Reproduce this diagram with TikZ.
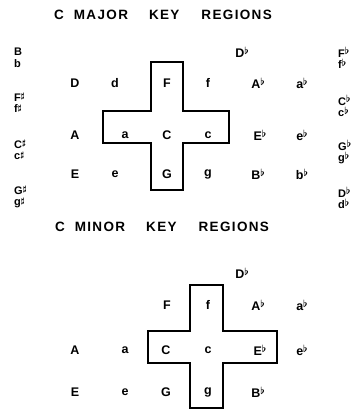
\documentclass[tikz,border=0pt]{standalone}
\usepackage{fontspec}
\setmainfont{Liberation Sans}
\newfontfamily\headfont[LetterSpace=10]{Liberation Sans}
\usepackage{tikz}
\usetikzlibrary{positioning}
\tikzset{
  region/.style={inner sep=0pt, font=\fontsize{12.5}{12.5}\selectfont\bfseries},
  pair/.style={inner sep=0pt, anchor=north west, align=left,
               font=\fontsize{11}{11.5}\selectfont\bfseries},
  heading/.style={inner sep=0pt, font=\headfont\fontsize{13.5}{13.5}\selectfont\bfseries},
  cross/.style={draw, line width=1.2pt, line join=miter},
}
\newcommand{\flt}{\raisebox{0.45ex}{\fontsize{10}{10}\selectfont$\boldsymbol{\flat}$}}
\newcommand{\shrp}{\raisebox{0.45ex}{\fontsize{8.5}{8.5}\selectfont$\boldsymbol{\sharp}$}}
\usepackage{amsmath,bm}

\begin{document}
\begin{tikzpicture}[x=1pt, y=-1pt]
  \useasboundingbox (0,0) rectangle (361,411);
  % major
  \node[heading] (majtitle) at (163,15) {C\hspace{10pt}MAJOR\hspace{21pt}KEY\hspace{22pt}REGIONS};
  \node[pair] (lBb) at (14,48) {B\\b};
  \node[pair] (lFf) at (14,93) {F\shrp\\f\shrp};
  \node[pair] (lCc) at (14,140) {C\shrp\\c\shrp};
  \node[pair] (lGg) at (14,186) {G\shrp\\g\shrp};
  \node[pair] (rFf) at (338,47) {F\flt\\f\flt};
  \node[pair] (rCc) at (338,95) {C\flt\\c\flt};
  \node[pair] (rGg) at (338,140) {G\flt\\g\flt};
  \node[pair] (rDd) at (338,187) {D\flt\\d\flt};
  \node[region] (mDb) at (242,52) {D\flt};
  \node[region] (mD) at (75,83) {D};
  \node[region] (md) at (115,83) {d};
  \node[region] (mF) at (167,83) {F};
  \node[region] (mf) at (208,83) {f};
  \node[region] (mAb) at (258,83) {A\flt};
  \node[region] (mab) at (302,83) {a\flt};
  \node[region] (mA) at (75,135) {A};
  \node[region] (ma) at (125,135) {a};
  \node[region] (mC) at (167,135) {C};
  \node[region] (mc) at (208,135) {c};
  \node[region] (mEb) at (260,135) {E\flt};
  \node[region] (meb) at (302,135) {e\flt};
  \node[region] (mE) at (75,174) {E};
  \node[region] (me) at (115,174) {e};
  \node[region] (mG) at (167,174) {G};
  \node[region] (mg) at (208,174) {g};
  \node[region] (mBb) at (258,174) {B\flt};
  \node[region] (mbb) at (302,174) {b\flt};
  \draw[cross] (151,62) -- (183,62) -- (183,111) -- (229,111) -- (229,143)
    -- (183,143) -- (183,190) -- (151,190) -- (151,143) -- (103,143)
    -- (103,111) -- (151,111) -- cycle;
  % minor
  \node[heading] (mintitle) at (162,227) {C\hspace{10pt}MINOR\hspace{21pt}KEY\hspace{22pt}REGIONS};
  \node[region] (nDb) at (242,273) {D\flt};
  \node[region] (nF) at (167,305) {F};
  \node[region] (nf) at (208,305) {f};
  \node[region] (nAb) at (258,305) {A\flt};
  \node[region] (nab) at (302,305) {a\flt};
  \node[region] (nA) at (75,350) {A};
  \node[region] (na) at (125,350) {a};
  \node[region] (nC) at (166,350) {C};
  \node[region] (nc) at (208,350) {c};
  \node[region] (nEb) at (260,350) {E\flt};
  \node[region] (neb) at (302,350) {e\flt};
  \node[region] (nE) at (75,392) {E};
  \node[region] (ne) at (125,392) {e};
  \node[region] (nG) at (166,392) {G};
  \node[region] (ng) at (208,392) {g};
  \node[region] (nBb) at (258,392) {B\flt};
  \draw[cross] (190,285) -- (223,285) -- (223,331) -- (277,331) -- (277,363)
    -- (223,363) -- (223,408) -- (190,408) -- (190,363) -- (148,363)
    -- (148,331) -- (190,331) -- cycle;
\end{tikzpicture}
\end{document}
